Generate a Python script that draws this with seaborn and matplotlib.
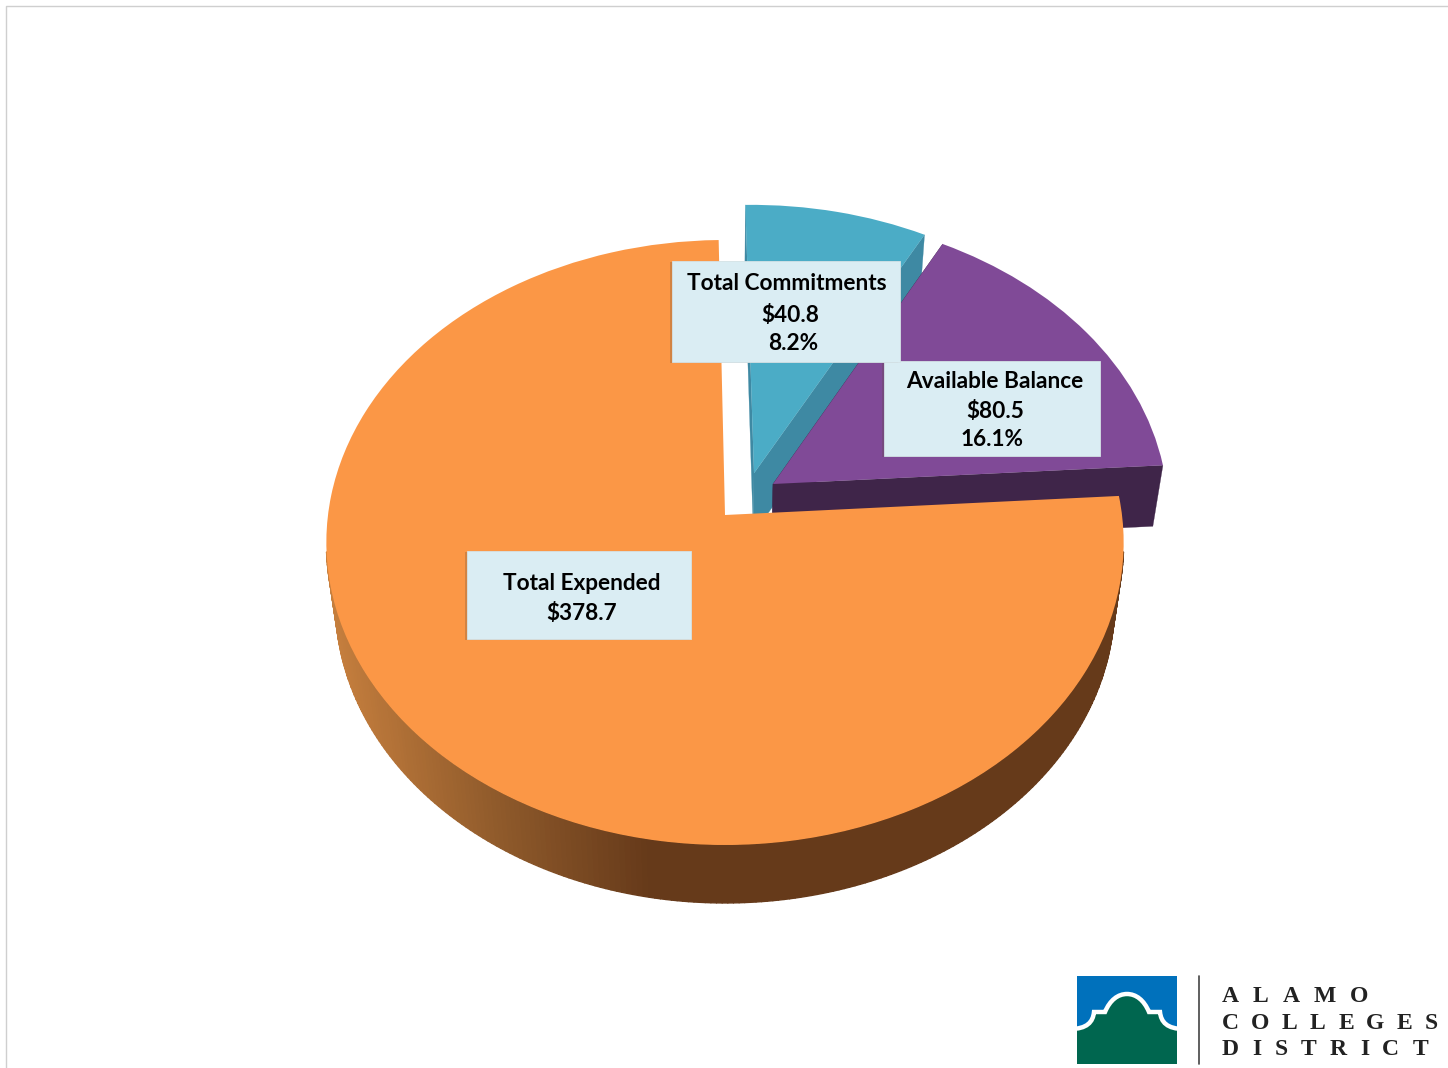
import numpy as np
import matplotlib
matplotlib.use("Agg")
import matplotlib.pyplot as plt
import seaborn as sns
from matplotlib.collections import PolyCollection
from matplotlib.colors import to_rgb
from matplotlib.patches import PathPatch, Rectangle
from matplotlib.path import Path
from matplotlib.transforms import Transform

# ---- data -------------------------------------------------------------
categories = ["Total Expended", "Available Balance", "Total Commitments"]
amounts = [378.7, 80.5, 40.8]
amount_labels = ["$378.7", "$80.5", "$40.8"]
percent_labels = ["", "16.1%", "8.2%"]

# ---- style ------------------------------------------------------------
top_colors = ["#FB9746", "#804A97", "#4BACC6"]
cut_colors = ["#663A1A", "#3F2549", "#3E89A3"]
explode_xy = [(0.0, 0.0), (0.122, 0.1043), (0.074, 0.141)]
START_ANGLE = 91.0
CX, CY, RX, RY, PERSP = 725.0, 515.0, 397.0, 300.0, 0.0909
DEPTH_SX, DEPTH_SY, DEPTH_CY = 0.977, 0.992, 575.6

sns.set_theme(style="white")
plt.rcParams["font.family"] = ["Lato", "DejaVu Sans"]


class Perspective(Transform):
    """Tilted-disc projection from pie coordinates to figure pixels."""
    input_dims = 2
    output_dims = 2

    def __init__(self, dx=0.0, dy=0.0, lower=False):
        super().__init__()
        self.dx, self.dy, self.lower = dx, dy, lower

    def transform_non_affine(self, values):
        v = np.asarray(values, dtype=float)
        x, y = v[:, 0] + self.dx, v[:, 1] + self.dy
        w = 1 + PERSP * y
        px, py = RX * x / w, -RY * y / w
        if self.lower:
            px, py = DEPTH_SX * px, DEPTH_CY - CY + DEPTH_SY * py
        return np.column_stack([CX + px, CY + py])


def unit(angles):
    a = np.radians(angles)
    return np.column_stack([np.cos(a), np.sin(a)])


def band(points, idx, top, low):
    """Quads between the top and the bottom face along a line of disc points."""
    t, b = top.transform_non_affine(points), low.transform_non_affine(points)
    return [np.array([t[i], t[i + 1], b[i + 1], b[i]]) for i in idx]


fig = plt.figure(figsize=(14.48, 10.68), dpi=100, facecolor="white")
ax = fig.add_axes([0, 0, 1, 1])

wedges, _ = ax.pie(amounts, colors=top_colors, startangle=START_ANGLE,
                   counterclock=True, radius=1, center=(0, 0),
                   wedgeprops=dict(linewidth=0))
ax.set_aspect("auto")
ax.set_xlim(0, 1448)
ax.set_ylim(1068, 0)
ax.axis("off")

sweeps = np.array(amounts) / sum(amounts) * 360.0
starts = START_ANGLE + np.concatenate([[0], np.cumsum(sweeps)[:-1]])

# side faces and top faces, back slices first
for order, i in enumerate([2, 1, 0]):
    dx, dy = explode_xy[i]
    top = Perspective(dx, dy)
    low = Perspective(dx, dy, lower=True)
    a0, a1 = starts[i], starts[i] + sweeps[i]

    if i == 0:  # outer rim (front part only), shaded from light on the left to dark at the front
        ang = np.linspace(187.0, 353.0, 220)
        quads = band(unit(ang), range(len(ang) - 1), top, low)
        stops_x = [326, 500, 650, 1130]
        stops_c = np.array([to_rgb(c) for c in ["#C9813F", "#8F5A2B", "#663A1A", "#663A1A"]])
        fc = [[np.interp(q[:, 0].mean(), stops_x, stops_c[:, k]) for k in range(3)] for q in quads]
        lw = 1.0
    else:  # straight cut faces
        pts_first = np.array([[0, 0], unit([a0])[0]])
        pts_second = np.array([[0, 0], unit([a1])[0]])
        quads = band(pts_first, [0], top, low) + band(pts_second, [0], top, low)
        fc = [cut_colors[i]] * 2
        lw = 0.2
    ax.add_collection(PolyCollection(quads, facecolors=fc, edgecolors=fc,
                                     linewidths=lw, zorder=2 + 2 * order))
    wedges[i].set_transform(top + ax.transData)
    wedges[i].set_zorder(3 + 2 * order)

# ---- label boxes ------------------------------------------------------
box_color = "#DAEDF3"
boxes = {2: (672, 261, 228, 101), 1: (884, 361, 216, 95), 0: (467, 551, 224, 88)}
text_pos = {2: [(787, 284), (790, 315.5), (793, 343)],
            1: [(995, 381), (995, 411.5), (992, 440)],
            0: [(582, 583), (582, 613.5)]}
FS = 16.3
for z, i in zip([12, 11, 10], [2, 1, 0]):
    x, y, w, h = boxes[i]
    ax.add_patch(Rectangle((x - 2, y + 1), w, h, fc="#5A4A3A", alpha=0.25, lw=0, zorder=z))
    ax.add_patch(Rectangle((x, y), w, h, fc=box_color, ec="#D4E2E6", lw=0.6, zorder=z + 0.1))
    lines = [categories[i], amount_labels[i], percent_labels[i]]
    for (tx, ty), s in zip(text_pos[i], lines):
        ax.text(tx, ty, s, ha="center", va="center", fontsize=FS,
                fontweight="bold", color="black", zorder=20)

# ---- slide frame ------------------------------------------------------
ax.plot([6, 6, 1448], [1068, 6, 6], color="#CFCFCF", lw=1.0, zorder=1)

# ---- logo -------------------------------------------------------------
logo_clip = Rectangle((1077, 976), 100, 88, fc="#0071BC", lw=0, zorder=30)
ax.add_patch(logo_clip)
verts = [(1070, 1029), (1087, 1029), (1093, 1022), (1094, 1012), (1105, 1012),
         (1110, 1000), (1118, 994), (1127, 994), (1136, 994), (1144, 1000), (1149, 1012),
         (1160, 1012), (1161, 1022), (1167, 1029), (1184, 1029),
         (1184, 1072), (1070, 1072), (1070, 1029)]
codes = [Path.MOVETO, Path.CURVE4, Path.CURVE4, Path.CURVE4, Path.LINETO,
         Path.CURVE4, Path.CURVE4, Path.CURVE4, Path.CURVE4, Path.CURVE4, Path.CURVE4,
         Path.LINETO, Path.CURVE4, Path.CURVE4, Path.CURVE4,
         Path.LINETO, Path.LINETO, Path.CLOSEPOLY]
dome = PathPatch(Path(verts, codes), fc="#00664F", ec="white", lw=3.2, zorder=31)
ax.add_patch(dome)
dome.set_clip_path(logo_clip)
ax.plot([1199, 1199], [976, 1064], color="#444444", lw=1.2, zorder=31)

logo_lines = [("ALAMO", 1222, 1368, 994), ("COLLEGES", 1222, 1438, 1021), ("DISTRICT", 1222, 1428, 1047)]
renderer = fig.canvas.get_renderer()
for word, x0, x1, yc in logo_lines:
    letters = [ax.text(0, yc, ch, family="Liberation Serif", fontsize=17, fontweight="bold",
                       color="#222222", ha="left", va="center_baseline", zorder=31) for ch in word]
    widths = [t.get_window_extent(renderer).width for t in letters]
    gap = (x1 - x0 - sum(widths)) / (len(word) - 1)
    x = x0
    for t, w in zip(letters, widths):
        t.set_x(x)
        x += w + gap

fig.savefig("out.png", dpi=100, facecolor="white")
